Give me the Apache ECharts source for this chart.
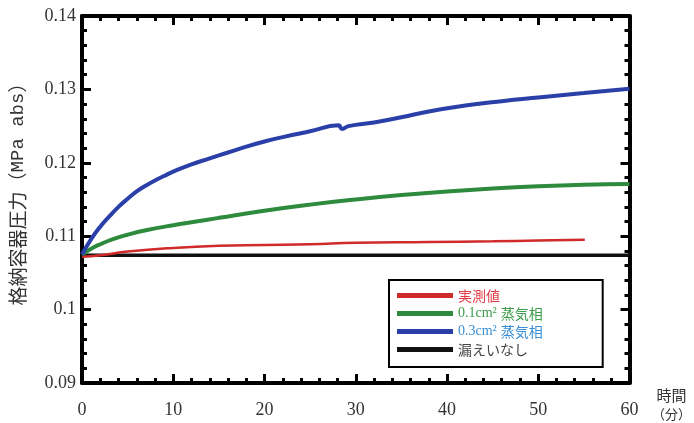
<!DOCTYPE html>
<html>
<head>
<meta charset="utf-8">
<script src="https://cdn.jsdelivr.net/npm/echarts@6/dist/echarts.min.js"></script>
<style>
html,body{margin:0;padding:0;background:#fff;}
#chart{width:694px;height:423px;}
</style>
</head>
<body>
<div id="chart"></div>
<script>
// ---- data (time in minutes, pressure in MPa abs) ----
const seriesNames = ['実測値', '0.1cm² 蒸気相', '0.3cm² 蒸気相', '漏えいなし'];

const redT = [0, 2, 5, 10, 15, 20, 25, 30, 38, 45, 50, 55.1];
const redV = [0.1072, 0.1074, 0.1079, 0.1084, 0.1087, 0.1088, 0.1089, 0.1091, 0.1092, 0.1093, 0.1094, 0.1095];

const greenT = [0, 1, 2, 3.4, 5, 7, 10, 12.5, 15, 19.6, 25, 30, 35, 40, 45, 50, 55, 60];
const greenV = [0.1075, 0.1083, 0.1089, 0.1096, 0.1102, 0.1108, 0.1115, 0.1120, 0.1125, 0.1134, 0.1143, 0.1150, 0.1156, 0.1161, 0.1165, 0.1168, 0.1170, 0.1171];

const blueT = [0, 1, 2, 3, 4, 5, 6, 7, 8, 9, 10, 12, 14, 16, 18, 20, 22, 25, 28.1, 28.5, 29.2, 32, 35, 38, 42, 46, 50, 55, 60];
const blueV = [0.1075, 0.1096, 0.1113, 0.1127, 0.1140, 0.1151, 0.1161, 0.1169, 0.1176, 0.1182, 0.1188, 0.1198, 0.1206, 0.1214, 0.1222, 0.1229, 0.1235, 0.1243, 0.1251, 0.1246, 0.1250, 0.1255, 0.1262, 0.1270, 0.1278, 0.1284, 0.1289, 0.1295, 0.1301];

const blackT = [0, 20, 40, 60];
const blackV = [0.1074, 0.1074, 0.1074, 0.1074];

const xTickLabels = ['0', '10', '20', '30', '40', '50', '60'];
const yTickLabels = ['0.09', '0.1', '0.11', '0.12', '0.13', '0.14'];

function zip(t, v) { return t.map((x, i) => [x, v[i]]); }

const chart = echarts.init(document.getElementById('chart'), null, {renderer: 'canvas'});

const tickFont = "'Liberation Serif', serif";
const cjkFont = "'Noto Sans CJK JP', sans-serif";

function axisCommon() {
  return {
    axisLine: {show: true, onZero: false, lineStyle: {color: '#000', width: 4}},
    axisTick: {show: true, inside: true, length: 9, lineStyle: {color: '#000', width: 3}},
    minorTick: {show: true, splitNumber: 5, length: 5, lineStyle: {color: '#000', width: 3}},
    splitLine: {show: false},
    minorSplitLine: {show: false}
  };
}

const option = {
  backgroundColor: '#fff',
  animation: false,
  grid: {left: 81, right: 61, top: 16, bottom: 40, containLabel: false},
  xAxis: [
    Object.assign({
      type: 'value', min: 0, max: 60, interval: 10, position: 'bottom',
      axisLabel: {
        show: true, margin: 18, color: '#333', fontSize: 18, fontFamily: tickFont,
        formatter: v => xTickLabels[Math.round(v / 10)]
      },
      name: '{a|時間}\n{b|（分）}',
      nameLocation: 'end',
      nameGap: 42,
      nameTextStyle: {
        align: 'center', verticalAlign: 'top', padding: [3, 0, 0, 0],
        rich: {
          a: {fontSize: 15, fontFamily: cjkFont, color: '#333', lineHeight: 19, align: 'center'},
          b: {fontSize: 13, fontFamily: cjkFont, color: '#333', lineHeight: 19, align: 'center'}
        }
      }
    }, axisCommon()),
    Object.assign({
      type: 'value', min: 0, max: 60, interval: 10, position: 'top',
      axisLabel: {show: false}
    }, axisCommon())
  ],
  yAxis: [
    Object.assign({
      type: 'value', min: 0.09, max: 0.14, interval: 0.01, position: 'left',
      axisLabel: {
        show: true, margin: 6, color: '#333', fontSize: 18, fontFamily: tickFont,
        formatter: v => yTickLabels[Math.round((v - 0.09) / 0.01)]
      },
      name: '{c|格納容器圧力（}{m|MPa abs}{c|）}',
      nameLocation: 'middle',
      nameGap: 55,
      nameRotate: 90,
      nameTextStyle: {
        padding: [0, 0, 0, 20],
        rich: {
          c: {fontSize: 19, fontFamily: cjkFont, color: '#333'},
          m: {fontSize: 19, fontFamily: "'Liberation Mono', monospace", color: '#333'}
        }
      }
    }, axisCommon()),
    Object.assign({
      type: 'value', min: 0.09, max: 0.14, interval: 0.01, position: 'right',
      axisLabel: {show: false}
    }, axisCommon())
  ],
  legend: {
    show: true,
    orient: 'vertical',
    left: 389, top: 280,
    padding: [8, 60, 10, 8],
    borderColor: '#000', borderWidth: 2, backgroundColor: '#fff',
    icon: 'rect', itemWidth: 56, itemHeight: 5, itemGap: 3,
    z: 10,
    data: seriesNames,
    formatter: function (name) {
      if (name === seriesNames[0]) return '{r|実測値}';
      if (name === seriesNames[1]) return '{gm|0.1cm²} {gc|蒸気相}';
      if (name === seriesNames[2]) return '{bm|0.3cm²} {bc|蒸気相}';
      return '{k|漏えいなし}';
    },
    textStyle: {
      fontSize: 14, lineHeight: 15,
      rich: {
        r: {color: '#e23a44', fontSize: 14, fontFamily: cjkFont, lineHeight: 15},
        gm: {color: '#3c9c4c', fontSize: 14, fontFamily: tickFont, lineHeight: 15},
        gc: {color: '#3c9c4c', fontSize: 14, fontFamily: cjkFont, lineHeight: 15},
        bm: {color: '#3b8fd4', fontSize: 14, fontFamily: tickFont, lineHeight: 15},
        bc: {color: '#3b8fd4', fontSize: 14, fontFamily: cjkFont, lineHeight: 15},
        k: {color: '#444', fontSize: 14, fontFamily: cjkFont, lineHeight: 15}
      }
    }
  },
  series: [
    {
      name: seriesNames[3], type: 'line', data: zip(blackT, blackV),
      showSymbol: false, symbol: 'none', color: '#111',
      lineStyle: {color: '#111', width: 3.5}, z: 2
    },
    {
      name: seriesNames[0], type: 'line', data: zip(redT, redV),
      showSymbol: false, symbol: 'none', smooth: 0.5, color: '#d02a2a',
      lineStyle: {color: '#d02a2a', width: 2.5}, z: 3
    },
    {
      name: seriesNames[1], type: 'line', data: zip(greenT, greenV),
      showSymbol: false, symbol: 'none', smooth: 0.5, color: '#2e8b3e',
      lineStyle: {color: '#2e8b3e', width: 4}, z: 3
    },
    {
      name: seriesNames[2], type: 'line', data: zip(blueT, blueV),
      showSymbol: false, symbol: 'none', smooth: 0.5, color: '#2a3fa8',
      lineStyle: {color: '#2a3fa8', width: 4}, z: 3
    }
  ]
};

chart.setOption(option);
</script>
</body>
</html>
